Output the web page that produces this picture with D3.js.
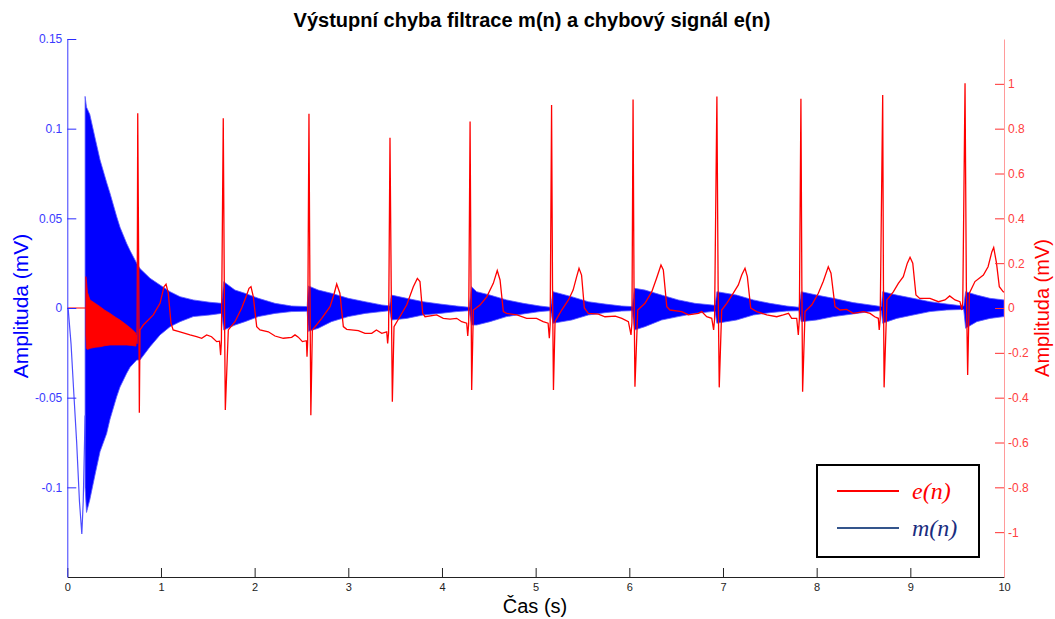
<!DOCTYPE html>
<html><head><meta charset="utf-8">
<script src="https://cdn.jsdelivr.net/npm/d3@7/dist/d3.min.js"></script>
<style>body{margin:0;background:#fff}svg{display:block}</style>
</head><body>
<svg id="chart" width="1055" height="619"></svg>
<script>
// ---------------- DATA ----------------
const titleText = "Výstupní chyba filtrace m(n) a chybový signál e(n)";
const xLabel = "Čas (s)";
const yLabel = "Amplituda (mV)";
const xTicks = [0,1,2,3,4,5,6,7,8,9,10];
const leftTicks = [-0.1,-0.05,0,0.05,0.1,0.15];
const rightTicks = [-1,-0.8,-0.6,-0.4,-0.2,0,0.2,0.4,0.6,0.8,1];
const legendLabels = ["e(n)", "m(n)"];

// m(n): lead-in before the dense oscillation (time s, value mV)
const mLeadT = [0, 0.01, 0.04, 0.07, 0.10, 0.13, 0.155, 0.17, 0.19];
const mLeadV = [0, -0.001, -0.02, -0.048, -0.075, -0.108, -0.126, -0.108, -0.06];

// m(n): envelope of the dense oscillation (time, upper, lower)
const mBandT  = [0.19,0.205,0.24,0.30,0.35,0.42,0.456,0.527,0.563,0.634,0.67,0.741,0.776,0.883,0.99,1.097,1.204,1.345,1.52,1.648,
  1.67,1.79,1.897,2.04,2.217,2.395,2.56,2.575,2.68,2.82,3.0,3.18,3.357,3.44,3.46,3.623,3.80,3.98,4.157,4.29,
  4.315,4.37,4.513,4.69,4.868,5.046,5.16,5.185,5.385,5.562,5.74,5.92,6.03,6.055,6.167,6.345,6.523,6.70,6.88,6.915,
  6.935,7.146,7.324,7.50,7.68,7.81,7.835,8.0,8.18,8.39,8.57,8.69,8.705,8.855,9.03,9.21,9.39,9.57,9.59,9.71,9.85,10.0];
const mBandHi = [0.118,0.112,0.108,0.094,0.0825,0.070,0.064,0.051,0.045,0.036,0.032,0.025,0.022,0.0166,0.0128,0.0091,0.0063,0.0045,0.0032,0.0026,
  0.0147,0.010,0.0082,0.0054,0.0026,0.0011,0.0008,0.0123,0.010,0.0082,0.0054,0.0035,0.0017,0.0012,0.0072,0.0054,0.0035,0.0022,0.0011,0.0004,
  0.0119,0.0091,0.0072,0.0045,0.0026,0.0011,0.0004,0.0091,0.0063,0.0035,0.0022,0.0011,0.0008,0.011,0.010,0.0072,0.0045,0.0026,0.0017,0.0015,
  0.0091,0.0072,0.0045,0.0026,0.0011,0.0004,0.0091,0.0072,0.0054,0.003,0.0017,0.0008,0.0091,0.0072,0.0054,0.0035,0.0022,0.0011,0.0091,0.0072,0.0054,0.0045];
const mBandLo = [-0.100,-0.114,-0.107,-0.092,-0.080,-0.070,-0.062,-0.0495,-0.044,-0.0364,-0.033,-0.029,-0.029,-0.0216,-0.015,-0.0104,-0.0076,-0.0048,-0.0039,-0.003,
  -0.0123,-0.0095,-0.0076,-0.0048,-0.003,-0.002,-0.0018,-0.013,-0.0113,-0.0076,-0.0048,-0.003,-0.002,-0.0015,-0.0067,-0.0058,-0.0039,-0.003,-0.002,-0.0015,
  -0.0095,-0.0095,-0.0076,-0.0048,-0.0033,-0.002,-0.0015,-0.0085,-0.0067,-0.0039,-0.0026,-0.0017,-0.0015,-0.0123,-0.0104,-0.0067,-0.0048,-0.003,-0.002,-0.0018,
  -0.0085,-0.0067,-0.0039,-0.0026,-0.0017,-0.0015,-0.0076,-0.0067,-0.0048,-0.0033,-0.002,-0.0015,-0.0085,-0.0058,-0.0039,-0.002,-0.0011,-0.0008,-0.0113,-0.0076,-0.0058,-0.0048];

// e(n): dense adaptation burst at the start (time, upper, lower)
const eBandT  = [0.198,0.205,0.215,0.242,0.30,0.349,0.40,0.456,0.51,0.563,0.634,0.69,0.733];
const eBandHi = [0.14,0.117,0.07,0.036,0.02,0.006,-0.01,-0.024,-0.04,-0.054,-0.076,-0.095,-0.113];
const eBandLo = [-0.12,-0.18,-0.185,-0.18,-0.175,-0.173,-0.168,-0.165,-0.165,-0.165,-0.165,-0.167,-0.17];

// e(n): ECG-like error signal (time, value mV)
const eLeadT = [0, 0.198];
const eLeadV = [0, 0];
const eT = [0.733,0.745,0.752,0.762,0.769,0.776,0.811,0.918,0.99,1.032,1.054,1.078,1.107,1.13,1.203,1.31,1.38,1.435,1.488,1.54,1.595,1.625,1.637,1.645,
  1.665,1.676,1.687,1.719,1.79,1.862,1.915,1.94,1.961,1.986,2.022,2.057,2.146,2.217,2.306,2.395,2.431,2.466,2.51,2.553,2.559,2.566,
  2.58,2.59,2.60,2.616,2.716,2.805,2.85,2.876,2.91,2.947,2.983,3.107,3.178,3.25,3.30,3.357,3.41,3.42,3.43,
  3.445,3.458,3.47,3.488,3.55,3.623,3.694,3.737,3.765,3.794,3.819,3.943,4.014,4.086,4.157,4.21,4.264,4.275,4.285,
  4.30,4.31,4.317,4.335,4.406,4.478,4.548,4.59,4.62,4.655,4.69,4.80,4.904,5.01,5.08,5.133,5.146,5.155,
  5.17,5.18,5.19,5.207,5.278,5.35,5.40,5.438,5.463,5.49,5.52,5.562,5.67,5.74,5.85,5.92,5.99,6.018,6.028,
  6.04,6.05,6.06,6.09,6.167,6.24,6.29,6.338,6.363,6.40,6.434,6.56,6.63,6.737,6.773,6.826,6.88,6.90,6.91,
  6.935,6.948,6.96,6.986,7.04,7.11,7.164,7.20,7.235,7.26,7.296,7.36,7.467,7.574,7.644,7.70,7.733,7.787,7.804,7.815,
  7.832,7.842,7.85,7.876,7.947,8.018,8.07,8.124,8.153,8.196,8.25,8.32,8.39,8.50,8.57,8.62,8.658,8.668,8.678,
  8.705,8.713,8.72,8.75,8.82,8.872,8.925,8.968,8.997,9.026,9.06,9.10,9.21,9.30,9.37,9.42,9.477,9.53,9.55,9.56,
  9.584,9.598,9.612,9.63,9.69,9.78,9.83,9.87,9.89,9.92,9.95,9.99,10.0];
const eV = [-0.12,-0.16,0.869,0.2,-0.467,-0.098,-0.076,-0.031,0.021,0.095,0.106,0.066,-0.068,-0.098,-0.106,-0.12,-0.128,-0.135,-0.12,-0.128,-0.15,-0.148,-0.21,-0.15,
  0.847,0.1,-0.455,-0.098,-0.061,0,0.058,0.088,0.095,0.05,-0.083,-0.098,-0.106,-0.125,-0.135,-0.131,-0.12,-0.13,-0.15,-0.146,-0.217,-0.15,
  0.866,0.1,-0.478,-0.098,-0.046,0.006,0.066,0.107,0.066,-0.083,-0.095,-0.101,-0.113,-0.113,-0.098,-0.113,-0.106,-0.158,-0.11,
  0.76,0.1,-0.418,-0.083,-0.039,0.013,0.095,0.132,0.118,-0.024,-0.039,-0.031,-0.046,-0.05,-0.046,-0.061,-0.068,-0.125,-0.07,
  0.832,0.1,-0.366,-0.009,0.013,0.05,0.11,0.167,0.125,-0.016,-0.024,-0.031,-0.046,-0.046,-0.061,-0.068,-0.135,-0.07,
  0.906,0.1,-0.366,-0.061,-0.009,0.036,0.08,0.14,0.177,0.147,0,-0.024,-0.027,-0.039,-0.036,-0.046,-0.061,-0.12,-0.065,
  0.93,0.1,-0.351,-0.009,0.021,0.073,0.132,0.192,0.17,0.006,-0.009,-0.016,-0.031,-0.024,-0.016,-0.039,-0.046,-0.098,-0.05,
  0.943,0.1,-0.354,-0.009,0.021,0.066,0.103,0.147,0.177,0.14,0,-0.016,-0.031,-0.039,-0.031,-0.024,-0.046,-0.046,-0.12,-0.05,
  0.933,0.1,-0.374,-0.016,0.013,0.066,0.118,0.184,0.155,0.006,-0.009,-0.006,-0.024,-0.016,-0.024,-0.039,-0.046,-0.098,-0.05,
  0.95,0.1,-0.354,0.036,0.073,0.11,0.14,0.2,0.226,0.2,0.058,0.043,0.043,0.028,0.036,0.054,0.036,0.028,-0.009,0.03,
  1.003,0.1,-0.299,0.066,0.118,0.147,0.184,0.25,0.27,0.2,0.095,0.073,0.07];

// ---------------- CHART ----------------
const svg = d3.select("#chart");
const L = 67.3, R = 1004, T = 39, B = 577;
const x = d3.scaleLinear().domain([0,10]).range([L,R]);
const yL = d3.scaleLinear().domain([-0.15,0.15]).range([B,T]);
const yR = d3.scaleLinear().domain([-1.2,1.2]).range([B,T]);

svg.append("defs").append("clipPath").attr("id","clip")
  .append("rect").attr("x",L).attr("y",T).attr("width",R-L).attr("height",B-T);

const plot = svg.append("g").attr("clip-path","url(#clip)");

const mBand = mBandT.map((t,i)=>({t, hi:mBandHi[i], lo:mBandLo[i]}));
const mLead = mLeadT.map((t,i)=>({t, v:mLeadV[i]}));
const eBand = eBandT.map((t,i)=>({t, hi:eBandHi[i], lo:eBandLo[i]}));
const eLead = eLeadT.map((t,i)=>({t, v:eLeadV[i]}));
const eLine = eT.map((t,i)=>({t, v:eV[i]}));

// blue m(n)
plot.append("path").datum(mBand)
  .attr("d", d3.area().x(d=>x(d.t)).y0(d=>yL(d.lo)).y1(d=>yL(d.hi)))
  .attr("fill","#0000ff").attr("stroke","#5c5cff").attr("stroke-width",0.8);
plot.append("path").datum(mLead)
  .attr("d", d3.line().x(d=>x(d.t)).y(d=>yL(d.v)))
  .attr("fill","none").attr("stroke","#4d4dff").attr("stroke-width",1.2);

// red e(n)
plot.append("path").datum(eBand)
  .attr("d", d3.area().x(d=>x(d.t)).y0(d=>yR(d.lo)).y1(d=>yR(d.hi)))
  .attr("fill","#ff0000").attr("stroke","#ff0000").attr("stroke-width",0.8);
plot.append("path").datum(eLead)
  .attr("d", d3.line().x(d=>x(d.t)).y(d=>yR(d.v)))
  .attr("fill","none").attr("stroke","#ff0000").attr("stroke-width",1.2);
plot.append("path").datum(eLine)
  .attr("d", d3.line().x(d=>x(d.t)).y(d=>yR(d.v)))
  .attr("fill","none").attr("stroke","#ff0000").attr("stroke-width",1.3).attr("stroke-linejoin","miter");

// axes
const fmt = d => String(d);
const gx = svg.append("g").attr("transform",`translate(0,${B})`)
  .call(d3.axisBottom(x).tickValues(xTicks).tickFormat(fmt).tickSizeInner(-9).tickSizeOuter(0).tickPadding(6));
gx.select(".domain").attr("stroke","#222");
gx.selectAll(".tick line").attr("stroke","#222");
gx.selectAll("text").attr("fill","#222").style("font","11px 'Liberation Sans', Arial, sans-serif");

const gl = svg.append("g").attr("transform",`translate(${L},0)`)
  .call(d3.axisLeft(yL).tickValues(leftTicks).tickFormat(fmt).tickSizeInner(-9).tickSizeOuter(0).tickPadding(5));
gl.select(".domain").attr("stroke","#3a3aff");
gl.selectAll(".tick line").attr("stroke","#2a2aff");
gl.selectAll("text").attr("fill","#3a3aff").style("font","12px 'Liberation Sans', Arial, sans-serif");

const gr = svg.append("g").attr("transform",`translate(${R},0)`)
  .call(d3.axisRight(yR).tickValues(rightTicks).tickFormat(fmt).tickSizeInner(-9).tickSizeOuter(0).tickPadding(4));
gr.select(".domain").attr("stroke","#ff9a9a");
gr.selectAll(".tick line").attr("stroke","#ff3030");
gr.selectAll("text").attr("fill","#ff4040").style("font","12px 'Liberation Sans', Arial, sans-serif");

// titles
svg.append("text").attr("x",532).attr("y",27).attr("text-anchor","middle")
  .style("font","bold 20px 'Liberation Sans', Arial, sans-serif").attr("fill","#000").text(titleText);
svg.append("text").attr("x",535).attr("y",613).attr("text-anchor","middle")
  .style("font","20px 'Liberation Sans', Arial, sans-serif").attr("fill","#000").text(xLabel);
svg.append("text").attr("transform","translate(28,306) rotate(-90)").attr("text-anchor","middle")
  .style("font","21px 'Liberation Sans', Arial, sans-serif").attr("fill","#0000ff").text(yLabel);
svg.append("text").attr("transform","translate(1049,308) rotate(-90)").attr("text-anchor","middle")
  .style("font","20px 'Liberation Sans', Arial, sans-serif").attr("fill","#ff0000").text(yLabel);

// legend
const lg = svg.append("g");
lg.append("rect").attr("x",817).attr("y",465).attr("width",162).attr("height",92)
  .attr("fill","#fff").attr("stroke","#000").attr("stroke-width",2);
const legColors = [{line:"#ff0000", text:"#ff0000"}, {line:"#34558c", text:"#1a2d80"}];
legendLabels.forEach((lab,i)=>{
  const yy = 491 + i*37;
  lg.append("line").attr("x1",837).attr("x2",899).attr("y1",yy).attr("y2",yy)
    .attr("stroke",legColors[i].line).attr("stroke-width",2);
  lg.append("text").attr("x",912).attr("y",yy+8)
    .style("font","italic 24px 'Liberation Serif', 'Times New Roman', serif")
    .attr("fill",legColors[i].text).text(lab);
});
</script>
</body></html>
